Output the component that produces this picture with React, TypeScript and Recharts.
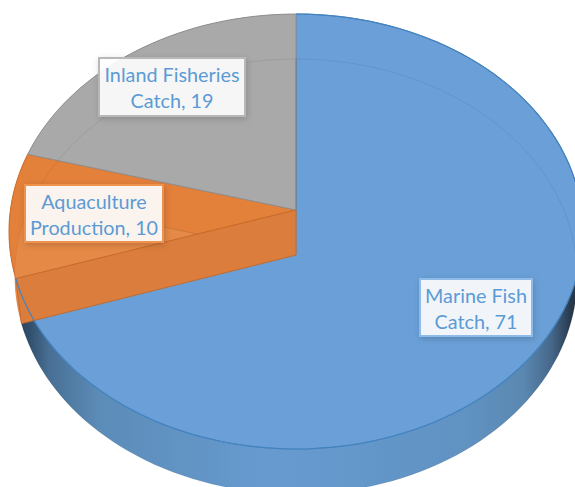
import { PieChart, Pie } from "recharts";

const categories = ["Marine Fish Catch", "Aquaculture Production", "Inland Fisheries Catch"];
const shares = [71, 10, 19];

const faceColors = ["#6aa0d7", "#e3803a", "#a9a9a9"];
const edgeColors = ["#4a86c0", "#c96c2c", "#8f8f8f"];
const textColor = "#5b9bd5";

const chartData = categories.map((name, i) => ({ name, value: shares[i] }));

// label boxes were placed by hand in the original, so they are too here
const labelBoxes: Record<string, { x: number; y: number; w: number; h: number; color: string }> = {
  "Inland Fisheries Catch": { x: 99, y: 58, w: 146, h: 58, color: "#b8b8b8" },
  "Aquaculture Production": { x: 25, y: 185, w: 138, h: 57, color: "#ee9350" },
  "Marine Fish Catch": { x: 420, y: 279, w: 112, h: 57, color: "#8fbbe8" },
};

// fake 3D: the disc is tilted and seen in perspective
const DEPTH = 45;
const BOTTOM_NARROW = 0.98;
const TILT = 0.0989;
const SQUASH = 0.754;

function point(theta: number, cx: number, cy: number, a: number, narrow = 1) {
  const t = (theta * Math.PI) / 180;
  // the original's slices do not sit quite where a true projection puts them
  const w = t + (4.9 * Math.sin(t) + 2.39 * Math.sin(2 * t)) * (Math.PI / 180);
  const u = Math.sin(w);
  const v = Math.cos(w);
  const den = 1 + TILT * v;
  return { x: cx + (a * narrow * u) / den, y: cy - (a * SQUASH * v) / den };
}

function arc(from: number, to: number, cx: number, cy: number, a: number, narrow = 1) {
  const pts = [];
  const steps = Math.max(2, Math.ceil(Math.abs(to - from) / 2));
  for (let i = 0; i <= steps; i++) {
    const p = point(from + ((to - from) * i) / steps, cx, cy, a, narrow);
    pts.push(`${p.x.toFixed(1)},${p.y.toFixed(1)}`);
  }
  return pts;
}

function range(props: any) {
  return [90 - props.startAngle, 90 - props.endAngle];
}

function SideShape(props: any) {
  const [from, to] = range(props);
  const { cx, cy, outerRadius: r, index } = props;
  const top = arc(from, to, cx, cy, r);
  const bottom = arc(to, from, cx, cy + DEPTH, r, BOTTOM_NARROW);
  return (
    <path
      d={`M${top.join("L")}L${bottom.join("L")}Z`}
      fill={index === 0 ? "url(#blueSide)" : faceColors[index]}
      stroke="none"
    />
  );
}

function FaceShape(props: any) {
  const [from, to] = range(props);
  const { cx, cy, outerRadius: r, index } = props;
  const pts = arc(from, to, cx, cy, r);
  return (
    <path
      d={`M${cx},${cy}L${pts.join("L")}Z`}
      fill={faceColors[index]}
      stroke={edgeColors[index]}
      strokeWidth={1}
    />
  );
}

// far face showing faintly through the top one
function GhostShape(props: any) {
  const [from, to] = range(props);
  const { cx, cy, outerRadius: r, index } = props;
  const pts = arc(from, to, cx, cy + DEPTH, r, BOTTOM_NARROW);
  return (
    <path
      d={`M${cx},${cy + DEPTH}L${pts.join("L")}Z`}
      fill={index === 1 ? "#ffffff" : "none"}
      fillOpacity={0.07}
      stroke="#000000"
      strokeOpacity={index === 1 ? 0.03 : 0.07}
      strokeWidth={1}
    />
  );
}

// the cut wall of the orange slice, drawn over the blue face
function CutShape(props: any) {
  const { cx, cy, outerRadius: r, index } = props;
  if (index !== 1) return <g />;
  const [from] = range(props);
  const a = point(from, cx, cy, r);
  const b = point(from, cx, cy + DEPTH, r, BOTTOM_NARROW);
  return (
    <path
      d={`M${cx},${cy}L${a.x},${a.y}L${b.x},${b.y}L${cx},${cy + DEPTH}Z`}
      fill="#db7d3c"
      stroke="#c96c2c"
      strokeWidth={1}
    />
  );
}

// front rim of the blue slice stays visible over the orange tip
function RimShape(props: any) {
  const { cx, cy, outerRadius: r, index } = props;
  if (index !== 0) return <g />;
  const [from, to] = range(props);
  return (
    <path d={`M${arc(from, to, cx, cy, r).join("L")}`} fill="none" stroke="#4483bf" strokeWidth={1.2} />
  );
}

function renderLabel(props: any) {
  const box = labelBoxes[props.name];
  const words = props.name.split(" ");
  const last = words.pop();
  const mid = box.x + box.w / 2;
  return (
    <g key={props.name}>
      <rect
        x={box.x}
        y={box.y}
        width={box.w}
        height={box.h}
        fill="#ffffff"
        fillOpacity={0.9}
        stroke={box.color}
        strokeWidth={2}
        filter="url(#labelShadow)"
      />
      <text
        x={mid}
        y={box.y + 24}
        textAnchor="middle"
        fontFamily="Lato, sans-serif"
        fontSize={19.8}
        fill={textColor}
      >
        {words.join(" ")}
      </text>
      <text
        x={mid}
        y={box.y + 49.5}
        textAnchor="middle"
        fontFamily="Lato, sans-serif"
        fontSize={19.8}
        fill={textColor}
      >
        {`${last}, ${props.value}`}
      </text>
    </g>
  );
}

const pieProps = {
  data: chartData,
  dataKey: "value",
  nameKey: "name",
  cx: 296,
  cy: 210,
  outerRadius: 285.6,
  startAngle: 90,
  endAngle: -270,
  isAnimationActive: false,
  labelLine: false,
};

export default function App() {
  return (
    <div style={{ position: "absolute", left: 0, top: 0, width: 575, height: 487, overflow: "hidden", background: "#fff" }}>
      <PieChart width={575} height={487} margin={{ top: 0, right: 0, bottom: 0, left: 0 }}>
        <defs>
          <linearGradient id="blueSide" gradientUnits="userSpaceOnUse" x1="15" y1="0" x2="580" y2="0">
            <stop offset="0" stopColor="#263e56" />
            <stop offset="0.025" stopColor="#314f6c" />
            <stop offset="0.06" stopColor="#486f94" />
            <stop offset="0.15" stopColor="#5c8cb8" />
            <stop offset="0.45" stopColor="#679bd0" />
            <stop offset="0.8" stopColor="#6092c2" />
            <stop offset="0.9" stopColor="#5a88b0" />
            <stop offset="0.95" stopColor="#46678a" />
            <stop offset="0.985" stopColor="#26384a" />
          </linearGradient>
          <filter id="labelShadow" x="-15%" y="-25%" width="130%" height="150%">
            <feDropShadow dx="1" dy="2" stdDeviation="3" floodColor="#000" floodOpacity="0.18" />
          </filter>
        </defs>
        <Pie {...pieProps} shape={SideShape} />
        <Pie {...pieProps} shape={FaceShape} />
        <Pie {...pieProps} shape={GhostShape} />
        <Pie {...pieProps} shape={CutShape} />
        <Pie {...pieProps} shape={RimShape} label={renderLabel} />
      </PieChart>
    </div>
  );
}
